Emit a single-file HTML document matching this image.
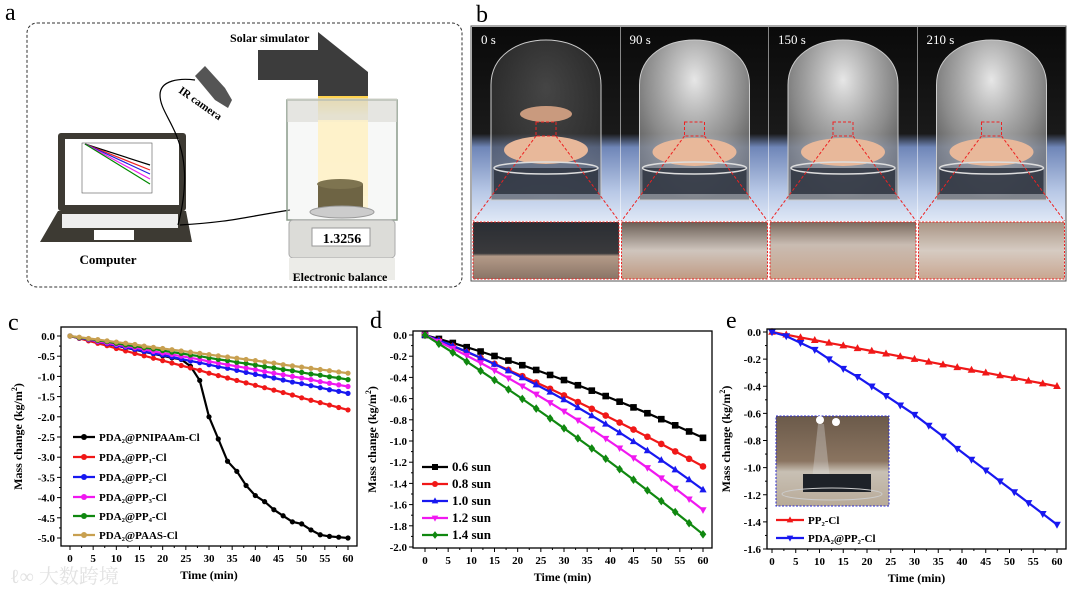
<!DOCTYPE html>
<html><head><meta charset="utf-8"><style>
html,body{margin:0;padding:0;background:#fff;}
svg{display:block;}
text{font-family:"Liberation Serif","Noto Serif CJK SC",serif;}
</style></head><body>
<svg id="fig" width="1072" height="594" viewBox="0 0 1072 594" xmlns="http://www.w3.org/2000/svg">
<defs>
<linearGradient id="beam" x1="0" y1="0" x2="0" y2="1"><stop offset="0" stop-color="#ffd24a"/><stop offset="0.12" stop-color="#ffe58a"/><stop offset="0.2" stop-color="#fff0c0"/><stop offset="1" stop-color="#fff6dc"/></linearGradient>
<linearGradient id="bg" x1="0" y1="0" x2="0" y2="1"><stop offset="0" stop-color="#0a0a0a"/><stop offset="0.55" stop-color="#1a1a1a"/><stop offset="0.62" stop-color="#6f86b8"/><stop offset="0.85" stop-color="#b8c8e6"/><stop offset="1" stop-color="#dfe8f6"/></linearGradient>
<radialGradient id="dome" cx="0.5" cy="0.25" r="0.75"><stop offset="0" stop-color="#f2f2f2" stop-opacity="0.95"/><stop offset="0.6" stop-color="#a8a8a8" stop-opacity="0.8"/><stop offset="1" stop-color="#666" stop-opacity="0.7"/></radialGradient>
<radialGradient id="dome0" cx="0.5" cy="0.3" r="0.7"><stop offset="0" stop-color="#777" stop-opacity="0.5"/><stop offset="1" stop-color="#333" stop-opacity="0.5"/></radialGradient>
<linearGradient id="z0" x1="0" y1="0" x2="0" y2="1"><stop offset="0" stop-color="#2a2d33"/><stop offset="0.55" stop-color="#3a3a3c"/><stop offset="0.6" stop-color="#b39a88"/><stop offset="1" stop-color="#8a7466"/></linearGradient>
<linearGradient id="z1" x1="0" y1="0" x2="0" y2="1"><stop offset="0" stop-color="#6a5e55"/><stop offset="0.5" stop-color="#cfc5bd"/><stop offset="1" stop-color="#c09a82"/></linearGradient>
<linearGradient id="z2" x1="0" y1="0" x2="0" y2="1"><stop offset="0" stop-color="#7a6a5e"/><stop offset="0.4" stop-color="#c9bcb2"/><stop offset="1" stop-color="#c8a48c"/></linearGradient>
<linearGradient id="z3" x1="0" y1="0" x2="0" y2="1"><stop offset="0" stop-color="#a89484"/><stop offset="0.5" stop-color="#d6cbc2"/><stop offset="1" stop-color="#c9a690"/></linearGradient>
<linearGradient id="inset" x1="0" y1="0" x2="0" y2="1"><stop offset="0" stop-color="#6b5a4a"/><stop offset="0.5" stop-color="#8a7460"/><stop offset="0.62" stop-color="#c8c0b4"/><stop offset="1" stop-color="#b8aa98"/></linearGradient>
</defs>

<g>
<text x="5" y="20" font-size="24">a</text>
<rect x="27" y="23" width="435" height="264" rx="10" fill="none" stroke="#333" stroke-width="1" stroke-dasharray="3,2"/>
<g>
<rect x="58" y="133" width="128" height="78" rx="3" fill="#3d3a33"/>
<rect x="65" y="139" width="114" height="66" fill="#fff"/>
<g stroke-width="1.2"><line x1="85" y1="144" x2="150" y2="165" stroke="#000"/><line x1="85" y1="144" x2="150" y2="170" stroke="#e22"/><line x1="85" y1="144" x2="150" y2="174" stroke="#22d"/><line x1="85" y1="144" x2="150" y2="179" stroke="#e2e"/><line x1="85" y1="144" x2="150" y2="184" stroke="#080"/></g>
<rect x="82" y="143" width="70" height="50" fill="none" stroke="#555" stroke-width="0.6"/>
<polygon points="58,211 186,211 192,242 40,242" fill="#3d3a33"/>
<rect x="62" y="214" width="116" height="14" fill="#eee"/>
<rect x="94" y="230" width="40" height="10" fill="#fff"/>
</g>
<text x="108" y="264" font-size="13" font-weight="bold" text-anchor="middle">Computer</text>
<path d="M178,225 C200,140 160,120 160,95 C160,80 180,78 195,80" fill="none" stroke="#000" stroke-width="1.2"/>
<path d="M180,225 C230,222 240,218 290,210" fill="none" stroke="#000" stroke-width="1.2"/>
<polygon points="195,76 205,66 225,88 232,100 228,108 215,100" fill="#555"/>
<text x="178" y="92" font-size="11" font-weight="bold" transform="rotate(35 178 92)">IR camera</text>
<text x="230" y="42" font-size="12" font-weight="bold">Solar simulator</text>
<polygon points="258,50 318,50 318,32 368,72 368,80 318,80 258,80" fill="#3c3c3c"/>
<rect x="318" y="78" width="50" height="18" fill="#3c3c3c"/>
<rect x="318" y="96" width="50" height="100" fill="url(#beam)"/>
<g>
<rect x="287" y="100" width="110" height="120" fill="#e8ece8" fill-opacity="0.35" stroke="#8a9a8a" stroke-width="1.5"/>
<rect x="287" y="98" width="110" height="24" fill="#d8d8d2" fill-opacity="0.6"/>
<rect x="318" y="120" width="50" height="90" fill="#fff2c8" fill-opacity="0.8"/>
<rect x="318" y="184" width="45" height="26" fill="#6e6444"/>
<ellipse cx="340" cy="184" rx="23" ry="5" fill="#7e7450"/>
<ellipse cx="342" cy="212" rx="32" ry="6" fill="#ccc" stroke="#999"/>
<rect x="289" y="220" width="106" height="38" rx="4" fill="#dcdcd8" stroke="#aaa"/>
<rect x="312" y="228" width="58" height="18" fill="#fff" stroke="#999"/>
<rect x="289" y="258" width="106" height="22" fill="#ecece8"/>
</g>
<text x="342" y="243" font-size="14" font-weight="bold" text-anchor="middle">1.3256</text>
<text x="340" y="281" font-size="12" font-weight="bold" text-anchor="middle">Electronic balance</text>
</g>

<g id="panelb">
<text x="476" y="22" font-size="24">b</text>
<rect x="471" y="26" width="595" height="255" fill="none" stroke="#555" stroke-width="1"/>
</g>

<text x="10" y="583" font-size="20" fill="#e2e2e2" font-family="'Noto Sans CJK SC',sans-serif">ℓ∞ 大数跨境</text>
</svg>

<script>
(function(){
  const NS='http://www.w3.org/2000/svg';
  const g=document.getElementById('panelb');
  const labels=['0 s','90 s','150 s','210 s'];
  function el(t,a,p){const e=document.createElementNS(NS,t);for(const k in a)e.setAttribute(k,a[k]);(p||g).appendChild(e);return e;}
  for(let i=0;i<4;i++){
    const x0=472+i*148.5, w=148, cx=x0+w/2;
    const ph=el('g',{});
    
    
    el('rect',{x:x0,y:27,width:w,height:194,fill:'url(#bg)'},ph);
    el('path',{d:`M${cx-55},200 L${cx-55},85 C${cx-55},25 ${cx+55},25 ${cx+55},85 L${cx+55},200 Z`,fill:i==0?'url(#dome0)':'url(#dome)',stroke:'#ccc','stroke-width':1},ph);
    el('ellipse',{cx:cx,cy:i==0?150:152,rx:42,ry:14,fill:'#e8b89a'},ph);
    el('rect',{x:cx-52,y:168,width:104,height:26,fill:'#2e3440','fill-opacity':0.85},ph);
    el('ellipse',{cx:cx,cy:168,rx:52,ry:6,fill:'none',stroke:'#ddd','stroke-width':1.5},ph);
    if(i==0) el('ellipse',{cx:cx,cy:114,rx:26,ry:8,fill:'#c99a7e'},ph);
    el('rect',{x:cx-10,y:122,width:20,height:14,fill:'none',stroke:'#e22','stroke-width':1,'stroke-dasharray':'3,2'},ph);
    el('line',{x1:cx-10,y1:136,x2:x0+1,y2:221,stroke:'#e22','stroke-width':1,'stroke-dasharray':'3,2'},ph);
    el('line',{x1:cx+10,y1:136,x2:x0+w-1,y2:221,stroke:'#e22','stroke-width':1,'stroke-dasharray':'3,2'},ph);
    const t=el('text',{x:x0+9,y:44,'font-size':13,fill:'#fff'},ph); t.textContent=labels[i];
    
    
    const z=el('rect',{x:x0+1,y:222,width:w-2,height:57,fill:'url(#z'+i+')',stroke:'#e22','stroke-width':1,'stroke-dasharray':'2,1.5'});
    
    
  }
})();

const timesC=[0,2,4,6,8,10,12,14,16,18,20,22,24,26,28,30,32,34,36,38,40,42,44,46,48,50,52,54,56,58,60];
const cNames=['PDA₂@PNIPAAm-Cl','PDA₂@PP₁-Cl','PDA₂@PP₂-Cl','PDA₂@PP₃-Cl','PDA₂@PP₄-Cl','PDA₂@PAAS-Cl'];
const cPNIPAAm=[0,-0.05,-0.10,-0.15,-0.20,-0.24,-0.29,-0.34,-0.39,-0.44,-0.49,-0.54,-0.58,-0.75,-1.10,-2.00,-2.55,-3.10,-3.35,-3.70,-3.95,-4.10,-4.30,-4.45,-4.60,-4.65,-4.80,-4.92,-4.96,-4.98,-5.00];
const cPP1=[0,-0.06,-0.12,-0.18,-0.24,-0.31,-0.37,-0.43,-0.49,-0.55,-0.61,-0.67,-0.73,-0.79,-0.85,-0.92,-0.98,-1.04,-1.10,-1.16,-1.22,-1.28,-1.34,-1.40,-1.46,-1.53,-1.59,-1.65,-1.71,-1.77,-1.83];
const cPP2=[0,-0.05,-0.09,-0.14,-0.19,-0.24,-0.28,-0.33,-0.38,-0.43,-0.47,-0.52,-0.57,-0.62,-0.66,-0.71,-0.76,-0.80,-0.85,-0.90,-0.95,-0.99,-1.04,-1.09,-1.14,-1.18,-1.23,-1.28,-1.33,-1.37,-1.42];
const cPP3=[0,-0.04,-0.08,-0.13,-0.17,-0.21,-0.25,-0.29,-0.33,-0.38,-0.42,-0.46,-0.50,-0.54,-0.58,-0.63,-0.67,-0.71,-0.75,-0.79,-0.83,-0.88,-0.92,-0.96,-1.00,-1.04,-1.08,-1.13,-1.17,-1.21,-1.25];
const cPP4=[0,-0.04,-0.07,-0.11,-0.14,-0.18,-0.22,-0.25,-0.29,-0.32,-0.36,-0.40,-0.43,-0.47,-0.50,-0.54,-0.58,-0.61,-0.65,-0.68,-0.72,-0.76,-0.79,-0.83,-0.86,-0.90,-0.94,-0.97,-1.01,-1.04,-1.08];
const cPAAS=[0,-0.03,-0.06,-0.09,-0.12,-0.15,-0.18,-0.21,-0.25,-0.28,-0.31,-0.34,-0.37,-0.40,-0.43,-0.46,-0.49,-0.52,-0.55,-0.58,-0.61,-0.64,-0.67,-0.71,-0.74,-0.77,-0.80,-0.83,-0.86,-0.89,-0.92];
const cYTicks=[0,-0.5,-1.0,-1.5,-2.0,-2.5,-3.0,-3.5,-4.0,-4.5,-5.0];
const xTicks=[0,5,10,15,20,25,30,35,40,45,50,55,60];

const timesD=[0,3,6,9,12,15,18,21,24,27,30,33,36,39,42,45,48,51,54,57,60];
const dNames=['0.6 sun','0.8 sun','1.0 sun','1.2 sun','1.4 sun'];
const d06=[0,-0.037,-0.075,-0.115,-0.156,-0.198,-0.241,-0.285,-0.330,-0.377,-0.425,-0.474,-0.525,-0.576,-0.629,-0.683,-0.738,-0.794,-0.852,-0.910,-0.97];
const d08=[0,-0.053,-0.106,-0.160,-0.216,-0.272,-0.330,-0.388,-0.448,-0.508,-0.57,-0.632,-0.696,-0.760,-0.826,-0.892,-0.960,-1.028,-1.098,-1.168,-1.24];
const d10=[0,-0.050,-0.103,-0.158,-0.215,-0.275,-0.337,-0.402,-0.469,-0.538,-0.61,-0.684,-0.761,-0.840,-0.921,-1.005,-1.091,-1.180,-1.271,-1.364,-1.46];
const d12=[0,-0.063,-0.127,-0.194,-0.263,-0.334,-0.407,-0.482,-0.559,-0.639,-0.72,-0.804,-0.889,-0.977,-1.067,-1.159,-1.253,-1.349,-1.447,-1.548,-1.65];
const d14=[0,-0.083,-0.166,-0.251,-0.338,-0.425,-0.514,-0.603,-0.694,-0.787,-0.88,-0.975,-1.070,-1.167,-1.266,-1.365,-1.466,-1.567,-1.670,-1.775,-1.88];
const dYTicks=[0,-0.2,-0.4,-0.6,-0.8,-1.0,-1.2,-1.4,-1.6,-1.8,-2.0];

const timesE=[0,3,6,9,12,15,18,21,24,27,30,33,36,39,42,45,48,51,54,57,60];
const eNames=['PP₂-Cl','PDA₂@PP₂-Cl'];
const ePP2=[0,-0.02,-0.04,-0.06,-0.08,-0.10,-0.12,-0.14,-0.16,-0.18,-0.20,-0.22,-0.24,-0.26,-0.28,-0.30,-0.32,-0.34,-0.36,-0.38,-0.40];
const ePDA=[0,-0.03,-0.08,-0.13,-0.20,-0.27,-0.33,-0.40,-0.47,-0.54,-0.61,-0.69,-0.77,-0.86,-0.94,-1.02,-1.10,-1.18,-1.26,-1.34,-1.42];
const eYTicks=[0,-0.2,-0.4,-0.6,-0.8,-1.0,-1.2,-1.4,-1.6];

const NS='http://www.w3.org/2000/svg';
const svg=document.getElementById('fig');
function mk(t,a,p){const e=document.createElementNS(NS,t);for(const k in a)e.setAttribute(k,a[k]);(p||svg).appendChild(e);return e;}

function marker(p,shape,x,y,c,r){
  let e;
  if(shape==='circle') e=mk('circle',{cx:x,cy:y,r:r,fill:c},p);
  else if(shape==='square') e=mk('rect',{x:x-r,y:y-r,width:2*r,height:2*r,fill:c},p);
  else if(shape==='up') e=mk('polygon',{points:`${x},${y-r*1.2} ${x-r*1.1},${y+r*0.8} ${x+r*1.1},${y+r*0.8}`,fill:c},p);
  else if(shape==='down') e=mk('polygon',{points:`${x},${y+r*1.2} ${x-r*1.1},${y-r*0.8} ${x+r*1.1},${y-r*0.8}`,fill:c},p);
  else e=mk('polygon',{points:`${x},${y-r*1.3} ${x+r},${y} ${x},${y+r*1.3} ${x-r},${y}`,fill:c},p);
  return e;
}

function chart(o){
  const g=mk('g',{});
  
  
  const xs=v=>o.x0+(v-0)/(60-0)*(o.x60-o.x0);
  const ys=v=>o.yTop+(o.yMax-v)/(o.yMax-o.yMin)*(o.yBot-o.yTop);
  const lab=mk('text',{x:o.lx,y:o.ly,'font-size':24},g); lab.textContent=o.letter;
  
  
  o.yTicks.forEach((v,i)=>{
    const y=ys(v);
    mk('line',{x1:o.fL-4,y1:y,x2:o.fL,y2:y,stroke:'#000','stroke-width':1},g);
    const t=mk('text',{x:o.fL-6,y:y+4,'font-size':11,'font-weight':'bold','text-anchor':'end'},g);
    t.textContent=v.toFixed(1);
    
    
    if(i<o.yTicks.length-1){const ym=ys((v+o.yTicks[i+1])/2);mk('line',{x1:o.fL-2,y1:ym,x2:o.fL,y2:ym,stroke:'#000'},g);}
  });
  xTicks.forEach((v,i)=>{
    const x=xs(v);
    mk('line',{x1:x,y1:o.fB,x2:x,y2:o.fB+4,stroke:'#000'},g);
    const t=mk('text',{x:x,y:o.fB+16,'font-size':11,'font-weight':'bold','text-anchor':'middle'},g);
    t.textContent=v;
    
    
    if(i<xTicks.length-1){const xm=xs(v+2.5);mk('line',{x1:xm,y1:o.fB,x2:xm,y2:o.fB+2,stroke:'#000'},g);}
  });
  const xt=mk('text',{x:(o.fL+o.fR)/2,y:o.fB+33,'font-size':12,'font-weight':'bold','text-anchor':'middle'},g);
  xt.textContent='Time (min)';
  
  
  const yt=mk('text',{x:0,y:0,'font-size':12,'font-weight':'bold','text-anchor':'middle',transform:`translate(${o.ytx},${(o.fT+o.fB)/2}) rotate(-90)`},g);
  yt.innerHTML='Mass change (kg/m<tspan dy="-5" font-size="8">2</tspan><tspan dy="5">)</tspan>';
  
  
  if(o.inset) o.inset(g);
  o.series.forEach((s,si)=>{
    const sg=mk('g',{},g);
    
    
    const pts=s.vals.map((v,i)=>xs(o.times[i]).toFixed(1)+','+ys(v).toFixed(1)).join(' ');
    mk('polyline',{points:pts,fill:'none',stroke:s.color,'stroke-width':2.2},sg);
    s.vals.forEach((v,i)=>{
      const m=marker(sg,s.shape,xs(o.times[i]),ys(v),s.color,o.mr);
      
      
    });
    const ly=o.legY[si];
    const lg=mk('g',{},g);
    
    
    mk('line',{x1:o.legX,y1:ly,x2:o.legX+o.legW,y2:ly,stroke:s.color,'stroke-width':2.2},lg);
    marker(lg,s.shape,o.legX+o.legW/2,ly,s.color,3);
    const t=mk('text',{x:o.legX+o.legW+4,y:ly+4,'font-size':o.legFs,'font-weight':'bold'},lg);
    t.textContent=s.label;
  });
  mk('rect',{x:o.fL,y:o.fT,width:o.fR-o.fL,height:o.fB-o.fT,fill:'none',stroke:'#000','stroke-width':1.3},g);
}

chart({name:'chart-c',letter:'c',lx:8,ly:330,x0:70,x60:348,yTop:336,yBot:538,yMax:0,yMin:-5,fL:61,fR:357,fT:327,fB:546,ytx:22,
  yTicks:cYTicks,times:timesC,mr:2.6,legX:73,legW:22,legFs:11,legY:[437,457,477,497,516,535],
  series:[{label:cNames[0],vals:cPNIPAAm,color:'#000',shape:'circle'},{label:cNames[1],vals:cPP1,color:'#f01818',shape:'circle'},
  {label:cNames[2],vals:cPP2,color:'#1818f0',shape:'circle'},{label:cNames[3],vals:cPP3,color:'#f018f0',shape:'circle'},
  {label:cNames[4],vals:cPP4,color:'#108810',shape:'circle'},{label:cNames[5],vals:cPAAS,color:'#c8a050',shape:'circle'}]});

chart({name:'chart-d',letter:'d',lx:370,ly:328,x0:425,x60:703,yTop:335,yBot:547,yMax:0,yMin:-2,fL:413,fR:712,fT:331,fB:548,ytx:376,
  yTicks:dYTicks,times:timesD,mr:3.3,legX:422,legW:26,legFs:13,legY:[467,484,501,518,535],
  series:[{label:dNames[0],vals:d06,color:'#000',shape:'square'},{label:dNames[1],vals:d08,color:'#f01818',shape:'circle'},
  {label:dNames[2],vals:d10,color:'#1818f0',shape:'up'},{label:dNames[3],vals:d12,color:'#f018f0',shape:'down'},
  {label:dNames[4],vals:d14,color:'#108810',shape:'diamond'}]});

chart({name:'chart-e',letter:'e',lx:726,ly:328,x0:772,x60:1057,yTop:332,yBot:549,yMax:0,yMin:-1.6,fL:767,fR:1066,fT:329,fB:549,ytx:730,
  yTicks:eYTicks,times:timesE,mr:3.5,legX:776,legW:28,legFs:11,legY:[520,538],
  inset:function(g){
    const r=mk('rect',{x:776,y:416,width:113,height:90,fill:'url(#inset)',stroke:'#2a2ad0','stroke-width':1,'stroke-dasharray':'2,1.5'},g);
    
    
    mk('circle',{cx:820,cy:420,r:4,fill:'#fff'},g);mk('circle',{cx:836,cy:422,r:4,fill:'#fff'},g);
    mk('polygon',{points:'818,424 824,424 830,480 812,480',fill:'#ddd','fill-opacity':0.35},g);
    mk('rect',{x:803,y:474,width:68,height:18,fill:'#1e2228'},g);
    mk('ellipse',{cx:832,cy:494,rx:50,ry:6,fill:'none',stroke:'#ccc'},g);
  },
  series:[{label:eNames[0],vals:ePP2,color:'#f01818',shape:'up'},{label:eNames[1],vals:ePDA,color:'#1818f0',shape:'down'}]});
</script>
</body></html>
